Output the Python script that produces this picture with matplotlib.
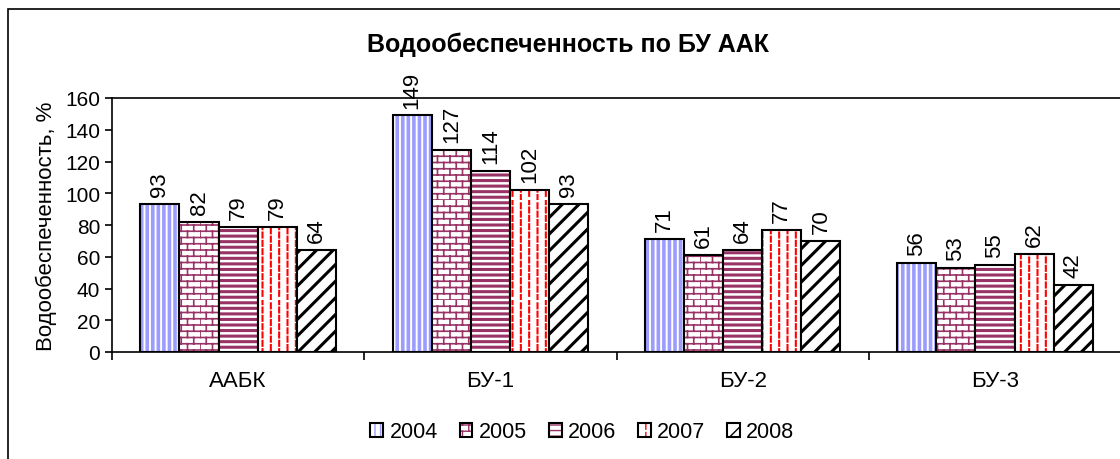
import numpy as np
import matplotlib
matplotlib.use('Agg')
import matplotlib.pyplot as plt
import matplotlib.hatch as mhatch
from matplotlib.path import Path
from matplotlib.patches import Rectangle

plt.rcParams['font.family'] = ['Liberation Sans', 'DejaVu Sans']

categories = ['ААБК', 'БУ-1', 'БУ-2', 'БУ-3']
years = ['2004', '2005', '2006', '2007', '2008']
v2004 = [93, 149, 71, 56]
v2005 = [82, 127, 61, 53]
v2006 = [79, 114, 64, 55]
v2007 = [79, 102, 77, 62]
v2008 = [64, 93, 70, 42]
series = [v2004, v2005, v2006, v2007, v2008]


# custom hatch patterns: 'b' = bricks, 'd' = dashed vertical lines
class BrickHatch(mhatch.HatchPatternBase):
    def __init__(self, hatch, density):
        self.rows = 16 if 'b' in hatch else 0
        self.nb = 8
        self.num_vertices = self.rows * 2 + self.rows * self.nb * 2

    def set_vertices_and_codes(self, vertices, codes):
        i = 0
        for r in range(self.rows):
            y0 = r / self.rows
            y1 = (r + 1) / self.rows
            vertices[i] = (0, y0)
            vertices[i + 1] = (1, y0)
            codes[i] = Path.MOVETO
            codes[i + 1] = Path.LINETO
            i += 2
            for k in range(self.nb):
                x = (k + 0.5 * (r % 2)) / self.nb
                vertices[i] = (x, y0)
                vertices[i + 1] = (x, y1)
                codes[i] = Path.MOVETO
                codes[i + 1] = Path.LINETO
                i += 2


class DashHatch(mhatch.HatchPatternBase):
    def __init__(self, hatch, density):
        self.nc = 12 if 'd' in hatch else 0
        self.nd = 12
        self.num_vertices = self.nc * self.nd * 2

    def set_vertices_and_codes(self, vertices, codes):
        i = 0
        for c in range(self.nc):
            x = (c + 0.5) / self.nc
            for d in range(self.nd):
                y0 = (d + 0.5 * (c % 2)) / self.nd
                y1 = y0 + 0.6 / self.nd
                vertices[i] = (x, y0)
                vertices[i + 1] = (x, y1)
                codes[i] = Path.MOVETO
                codes[i + 1] = Path.LINETO
                i += 2


mhatch._hatch_types.extend([BrickHatch, DashHatch])

hatches = ['|||', 'b', '---', 'd', '//']
hatch_colors = ['#9c9cff', '#993366', '#993366', '#ff0000', '#000000']
hatch_widths = [2.6, 1.2, 2.2, 1.5, 2.2]

fig = plt.figure(figsize=(11.2, 4.6), dpi=100)
fig.patches.append(Rectangle((8 / 1120, -0.1), 1.2, 1.1 - 10 / 460,
                             transform=fig.transFigure, fill=False,
                             edgecolor='black', linewidth=1.2))

ax = fig.add_axes([0.1, 1 - 353 / 460, 0.901, 254 / 460])
x = np.arange(len(categories))
w = 0.155
handles = []
for j, vals in enumerate(series):
    pos = x + (j - 2) * w
    with plt.rc_context({'hatch.linewidth': hatch_widths[j]}):
        hb = ax.bar(pos, vals, w, color='white', edgecolor=hatch_colors[j],
                    hatch=hatches[j], linewidth=0)
    for p in hb:
        if hasattr(p, 'set_hatch_linewidth'):
            p.set_hatch_linewidth(hatch_widths[j])
    ob = ax.bar(pos, vals, w, fill=False, edgecolor='black', linewidth=1.5)
    for xi, v in zip(pos, vals):
        ax.text(xi, v + 5, str(v), rotation=90, ha='center', va='bottom', fontsize=16)
    handles.append((hb[0], ob[0]))

ax.set_xlim(-0.5, 3.5)
ax.set_ylim(0, 160)
ax.set_yticks(np.arange(0, 161, 20))
ax.set_xticks(x)
ax.set_xticklabels(categories, fontsize=16)
ax.set_xticks(np.arange(-0.5, 4, 1), minor=True)
ax.tick_params(axis='x', which='major', length=0, pad=13)
ax.tick_params(axis='x', which='minor', length=6, width=1.2, direction='out')
ax.tick_params(axis='y', labelsize=15, length=5, width=1.2, direction='out')
for s in ax.spines.values():
    s.set_linewidth(1.2)
ax.set_ylabel('Водообеспеченность, %', fontsize=16, labelpad=6)

fig.text(0.507, 1 - 45 / 460, 'Водообеспеченность по БУ ААК', ha='center', va='center',
         fontsize=18, fontweight='bold')

fig.legend(handles, years, loc='center', bbox_to_anchor=(0.52, 1 - 433 / 460),
           ncol=5, frameon=False, fontsize=15.5, handlelength=0.6, handleheight=0.6,
           handletextpad=0.3, columnspacing=1.0)

fig.savefig('out.png', dpi=100)
